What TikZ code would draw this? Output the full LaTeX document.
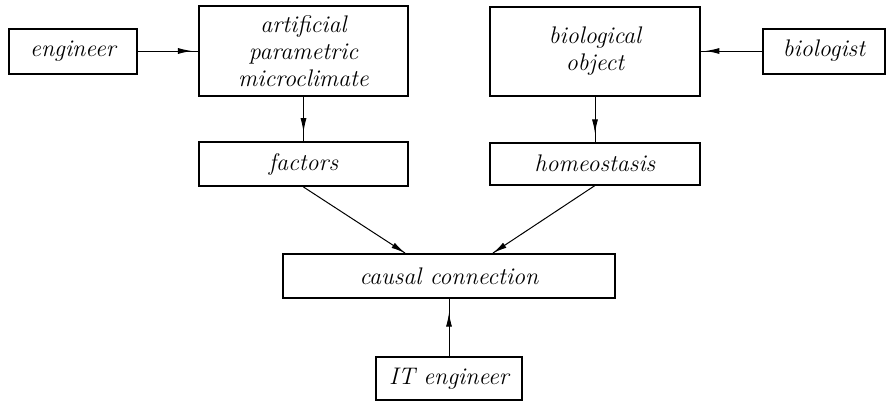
\documentclass[tikz,border=0pt]{standalone}
\usetikzlibrary{positioning,arrows.meta,decorations.markings}
\begin{document}
\begin{tikzpicture}[on grid,
    block/.style={draw,line width=1pt,align=center,font=\fontsize{12}{13.5}\selectfont\itshape},
    tipat/.style={postaction={decorate},decoration={markings,
      mark=at position #1 with {\arrow{Latex[length=7pt,width=3pt]}}}},
    link/.style={line width=0.5pt}]
  \useasboundingbox (-151.75pt,25.5pt) rectangle (291.25pt,-175.5pt);
	     \node[block,minimum width=104.5pt,minimum height=45pt] (climate) {artificial\\parametric\\microclimate};
	     \node[block,minimum width=64pt,minimum height=22.5pt] (engineer) [left=115.25pt of climate] {engineer};
	     \node[block,minimum width=105pt,minimum height=44.5pt] (object) [right=145.75pt of climate] {biological\\object};
	     \node[block,minimum width=61pt,minimum height=22.5pt] (biologist) [right=114.5pt of object] {biologist};
	     \node[block,minimum width=104.5pt,minimum height=22pt] (factors) [below=56.5pt of climate] {factors};
	     \node[block,minimum width=105pt,minimum height=21pt] (homeo) [below=56.25pt of object] {homeostasis};
	     \node[block,minimum width=166pt,minimum height=22pt] (causal) [below right=56pt and 72.75pt of factors] {causal connection};
	     \node[block,minimum width=73pt,minimum height=21.5pt] (itengineer) [below=51.25pt of causal] {IT engineer};

	     \path[link]
	       (engineer) edge[tipat=0.9] (climate)
	       (biologist) edge[tipat=0.93] (object)
	       (climate) edge[tipat=0.8] (factors)
	       (object) edge[tipat=0.82] (homeo)
	       (factors.south) edge[tipat=1] ([xshift=-22pt]causal.north)
	       (homeo.south) edge[tipat=1] ([xshift=22pt]causal.north)
	       (itengineer) edge[tipat=0.76] (causal)
	     ;
\end{tikzpicture}
\end{document}
